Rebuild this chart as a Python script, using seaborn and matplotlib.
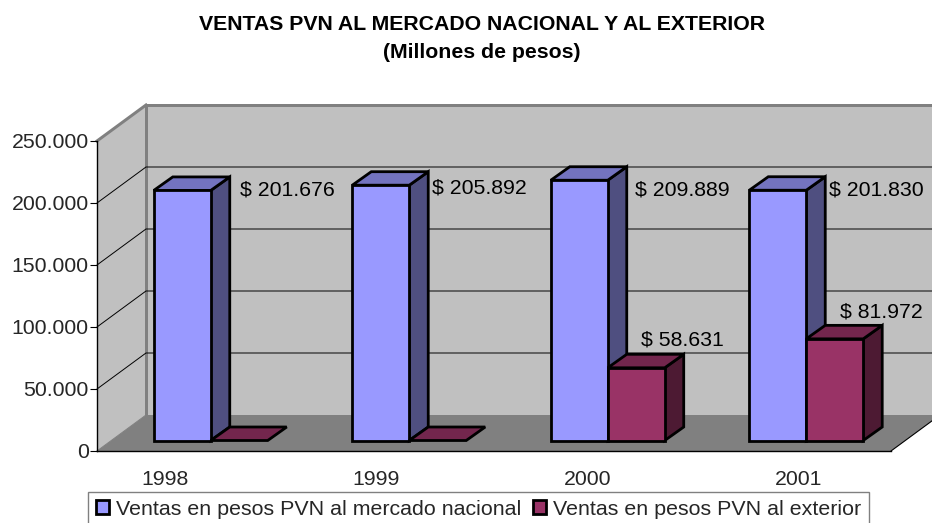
import matplotlib
matplotlib.use("Agg")
import matplotlib.pyplot as plt
import pandas as pd
import seaborn as sns
from matplotlib.patches import Patch, Polygon
from matplotlib.ticker import FuncFormatter
from matplotlib.transforms import IdentityTransform

# data
years = ["1998", "1999", "2000", "2001"]
ventas_nacional = [201676, 205892, 209889, 201830]
ventas_exterior = [0, 0, 58631, 81972]
serie_nacional = "Ventas en pesos PVN al mercado nacional"
serie_exterior = "Ventas en pesos PVN al exterior"
y_ticks = [0, 50000, 100000, 150000, 200000, 250000]

# (front, top, side) shades of each series
shades_nacional = ("#9999FF", "#7373BF", "#4F4F80")
shades_exterior = ("#993366", "#73264D", "#4D1A33")

# layout of the fake 3d box, in pixels
W, H = 932, 523
LEFT, RIGHT, TOP, BOTTOM = 97, 891, 141, 451
WALL_DX, WALL_DY = 49, 36
BAR_DX, BAR_DY = 14.5, 10.5
SIDE_DX, SIDE_DY = 19, 13.5
FONT = 15.3

# where the labels sit relative to the top of each front face, in pixels
label_off_nacional = [(105, 0), (98.5, -3), (103.5, -10), (98.5, 0)]
label_off_exterior = [None, None, (46, 28), (47, 27)]
year_label_pos = [-0.157, 0.907, 1.97, 3.036]


def dots(v):
    return f"{int(v):,}".replace(",", ".")


def shift(ax, x, y, dx=0, dy=0):
    px, py = ax.transData.transform((x, y))
    return (px + dx, py + dy)


def add_poly(ax, pts, zorder, **kw):
    ax.add_patch(Polygon(pts, closed=True, transform=IdentityTransform(),
                         clip_on=False, zorder=zorder, **kw))


def draw_box(ax):
    x0, x1 = ax.get_xlim()
    ymax = ax.get_ylim()[1]
    d = (WALL_DX, WALL_DY)
    grey = "#808080"
    wall = "#C0C0C0"
    add_poly(ax, [shift(ax, x0, 0), shift(ax, x0, ymax), shift(ax, x0, ymax, *d), shift(ax, x0, 0, *d)],
             0.1, facecolor=wall, edgecolor="none")
    add_poly(ax, [shift(ax, x0, 0, *d), shift(ax, x0, ymax, *d), shift(ax, x1, ymax, *d), shift(ax, x1, 0, *d)],
             0.1, facecolor=wall, edgecolor="none")
    add_poly(ax, [shift(ax, x0, 0), shift(ax, x1, 0), shift(ax, x1, 0, *d), shift(ax, x0, 0, *d)],
             0.2, facecolor=grey, edgecolor="none")
    # wall outlines
    for a, b, lw in [(shift(ax, x0, ymax), shift(ax, x0, ymax, *d), 3),
                     (shift(ax, x0, ymax, *d), shift(ax, x1, ymax, *d), 3),
                     (shift(ax, x0, ymax, *d), shift(ax, x0, 0, *d), 3),
                     (shift(ax, x0, 0), shift(ax, x0, 0, *d), 1)]:
        ax.plot([a[0], b[0]], [a[1], b[1]], color=grey, lw=lw * 0.72, transform=IdentityTransform(),
                clip_on=False, zorder=0.3, solid_capstyle="projecting")
    # gridlines run along the side wall and the back wall
    for t in y_ticks[1:-1]:
        a, b, c = shift(ax, x0, t), shift(ax, x0, t, *d), shift(ax, x1, t, *d)
        ax.plot([a[0], b[0], c[0]], [a[1], b[1], c[1]], color="black", lw=0.7,
                transform=IdentityTransform(), clip_on=False, zorder=0.35)
    a, b = shift(ax, x1, 0), shift(ax, x1, 0, *d)
    ax.plot([a[0], b[0]], [a[1], b[1]], color="black", lw=0.8, transform=IdentityTransform(),
            clip_on=False, zorder=0.3)


def draw_bar(ax, patch, shades, zorder):
    x0, x1 = patch.get_x(), patch.get_x() + patch.get_width()
    h = patch.get_height()
    fb = (BAR_DX, BAR_DY)
    bb = (BAR_DX + SIDE_DX, BAR_DY + SIDE_DY)
    style = dict(edgecolor="black", linewidth=2.0, joinstyle="miter")
    if h > 0:
        add_poly(ax, [shift(ax, x1, 0, *fb), shift(ax, x1, h, *fb), shift(ax, x1, h, *bb), shift(ax, x1, 0, *bb)],
                 zorder, facecolor=shades[2], **style)
    add_poly(ax, [shift(ax, x0, h, *fb), shift(ax, x1, h, *fb), shift(ax, x1, h, *bb), shift(ax, x0, h, *bb)],
             zorder, facecolor=shades[1], **style)
    if h > 0:
        add_poly(ax, [shift(ax, x0, 0, *fb), shift(ax, x1, 0, *fb), shift(ax, x1, h, *fb), shift(ax, x0, h, *fb)],
                 zorder + 0.01, facecolor=shades[0], **style)
    patch.set_visible(False)


def main():
    sns.set_style("white")
    plt.rcParams["font.family"] = ["Liberation Sans", "DejaVu Sans"]

    df = pd.DataFrame({
        "year": years * 2,
        "ventas": ventas_nacional + ventas_exterior,
        "serie": [serie_nacional] * 4 + [serie_exterior] * 4,
    })

    fig = plt.figure(figsize=(W / 100, H / 100), dpi=100, facecolor="white")
    ax = fig.add_axes([LEFT / W, (H - BOTTOM) / H, (RIGHT - LEFT) / W, (BOTTOM - TOP) / H])
    sns.barplot(data=df, x="year", y="ventas", hue="serie", hue_order=[serie_nacional, serie_exterior],
                palette=[shades_nacional[0], shades_exterior[0]], width=0.574, gap=0,
                legend=False, ax=ax)
    ax.set_xlim(-0.5, 3.5)
    ax.set_ylim(0, 250000)
    ax.autoscale(False)
    ax.patch.set_visible(False)
    ax.set_xlabel("")
    ax.set_ylabel("")

    ax.set_yticks(y_ticks)
    ax.yaxis.set_major_formatter(FuncFormatter(lambda v, _: dots(v)))
    ax.tick_params(axis="y", left=True, length=5, width=0.8, color="black", labelsize=FONT, pad=1)
    ax.set_xticks(year_label_pos)
    ax.set_xticklabels(years)
    ax.tick_params(axis="x", bottom=False, labelsize=FONT, pad=10)
    for side in ["top", "right"]:
        ax.spines[side].set_visible(False)
    for side in ["left", "bottom"]:
        ax.spines[side].set_color("black")
        ax.spines[side].set_linewidth(1.0)
        ax.spines[side].set_zorder(0.4)

    draw_box(ax)

    for i, (bar_n, bar_e) in enumerate(zip(ax.containers[0], ax.containers[1])):
        draw_bar(ax, bar_n, shades_nacional, 3 + i)
        draw_bar(ax, bar_e, shades_exterior, 3.5 + i)

    for bars, vals, offs in [(ax.containers[0], ventas_nacional, label_off_nacional),
                             (ax.containers[1], ventas_exterior, label_off_exterior)]:
        for bar, v, off in zip(bars, vals, offs):
            if off is None:
                continue
            x = bar.get_x() + bar.get_width() / 2
            px, py = shift(ax, x, v, BAR_DX + off[0], BAR_DY + off[1])
            ax.text(px, py, f"$ {dots(v)}", transform=IdentityTransform(), ha="center", va="center",
                    fontsize=FONT, color="black", clip_on=False, zorder=10)

    fig.text(482 / W, 1 - 25 / H, "VENTAS PVN AL MERCADO NACIONAL Y AL EXTERIOR", ha="center", va="center",
             fontsize=15.3, fontweight="bold", color="black")
    fig.text(482 / W, 1 - 53 / H, "(Millones de pesos)", ha="center", va="center",
             fontsize=15.3, fontweight="bold", color="black")

    handles = [
        Patch(facecolor=shades_nacional[0], edgecolor="black", linewidth=2.0, label=serie_nacional),
        Patch(facecolor=shades_exterior[0], edgecolor="black", linewidth=2.0, label=serie_exterior),
    ]
    leg = fig.legend(handles=handles, loc="lower left", bbox_to_anchor=(88 / W, -4 / H), ncol=2, frameon=True,
                     fancybox=False, edgecolor="#808080", facecolor="white", framealpha=1, fontsize=15.4,
                     handlelength=0.62, handleheight=0.62, handletextpad=0.3, columnspacing=0.56,
                     borderpad=0.38, borderaxespad=0)
    leg.get_frame().set_linewidth(1.0)

    fig.savefig("out.png", dpi=100)


if __name__ == "__main__":
    main()
